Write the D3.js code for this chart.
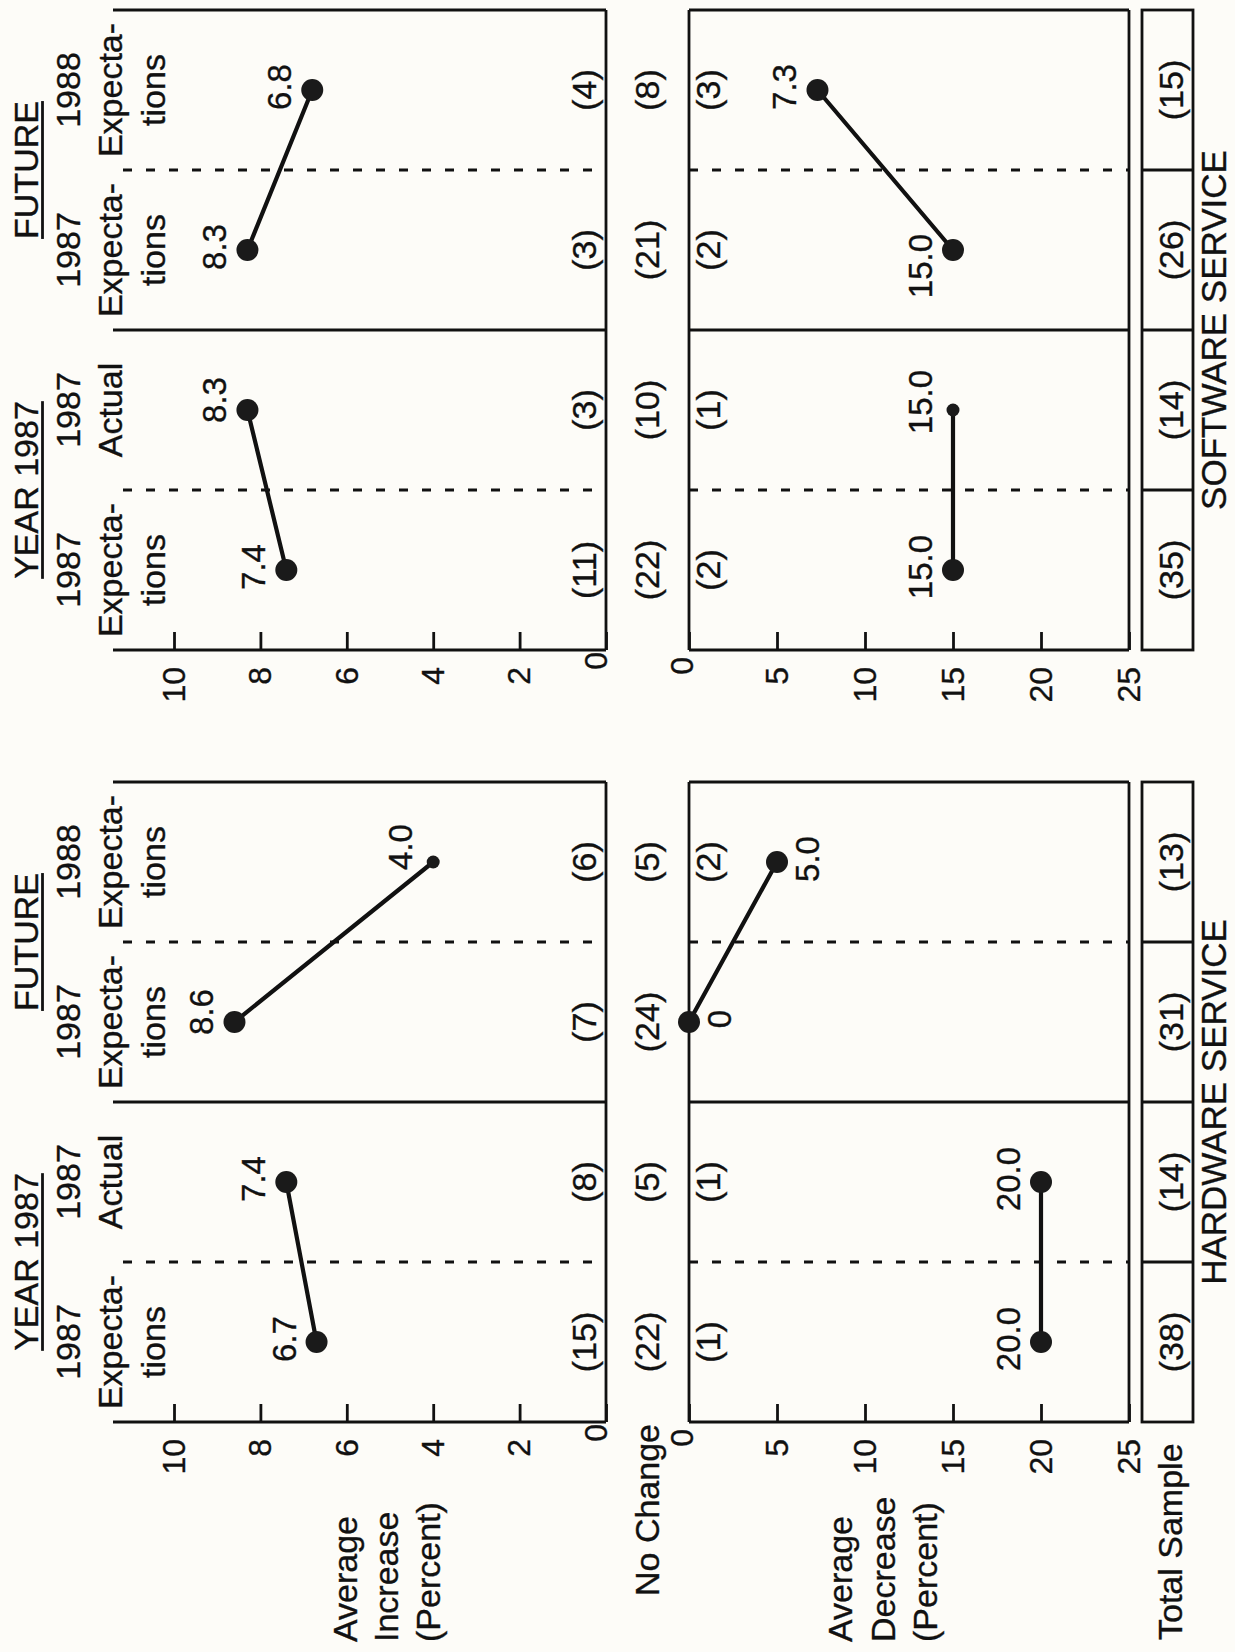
<!DOCTYPE html>
<html><head><meta charset="utf-8">
<script src="https://cdn.jsdelivr.net/npm/d3@7"></script>
<style>
html,body{margin:0;padding:0;background:#fdfcf8;}
svg{display:block;}
text{font-family:"Liberation Sans",Arial,Helvetica,sans-serif;fill:#111;stroke:#111;stroke-width:0.35px;}
</style></head><body>
<svg id="chart" width="1235" height="1652"></svg>
<script>
// ---------- data ----------
const groups = ["HARDWARE SERVICE", "SOFTWARE SERVICE"];
const periods = ["YEAR 1987", "FUTURE"];
const colHeaders = [["1987", "Expecta-", "tions"], ["1987", "Actual"], ["1987", "Expecta-", "tions"], ["1988", "Expecta-", "tions"]];
const rowIncrease = ["Average", "Increase", "(Percent)"];
const rowNoChange = "No Change";
const rowDecrease = ["Average", "Decrease", "(Percent)"];
const rowTotal = "Total Sample";
const increaseTicks = [0, 2, 4, 6, 8, 10];
const decreaseTicks = [0, 5, 10, 15, 20, 25];

const hwIncrease = [6.7, 7.4, 8.6, 4.0];
const hwDecrease = [20.0, 20.0, 0, 5.0];
const swIncrease = [7.4, 8.3, 8.3, 6.8];
const swDecrease = [15.0, 15.0, 15.0, 7.3];

const hwIncreaseN = [15, 8, 7, 6];
const hwNoChangeN = [22, 5, 24, 5];
const hwDecreaseN = [1, 1, null, 2];
const hwTotalN = [38, 14, 31, 13];
const swIncreaseN = [11, 3, 3, 4];
const swNoChangeN = [22, 10, 21, 8];
const swDecreaseN = [2, 1, 2, 3];
const swTotalN = [35, 14, 26, 15];

// ---------- style config (not data) ----------
const smallDots = {"0-inc-3": true, "1-dec-1": true};
const labelsBelow = {"0-dec-2": true, "0-dec-3": true};
const labelShift = {"0-inc-2": 10, "0-inc-3": 15, "1-inc-1": 10, "1-dec-1": 8, "1-dec-2": -16};

// ---------- layout (landscape frame, rotated at the end) ----------
const L = {top: 113, dashTop: 123, incBase: 606, decTop: 689, decBot: 1129,
           totTop: 1142, totBot: 1193, groupLeft: [230, 1002], groupW: 640};
const FS = 34;
const SW = 2.8;

const svg = d3.select("#chart");
svg.append("rect").attr("width", 1235).attr("height", 1652).attr("fill", "#fdfcf8");
const g = svg.append("g").attr("transform", "translate(0,1652) rotate(-90)");

const yInc = d3.scaleLinear().domain([0, 10]).range([606, 174]);
const yDec = d3.scaleLinear().domain([0, 25]).range([689, 1129]);

const INK = "#111";
const groupData = [
  {name: groups[0], inc: hwIncrease, dec: hwDecrease, incN: hwIncreaseN, ncN: hwNoChangeN, decN: hwDecreaseN, totN: hwTotalN},
  {name: groups[1], inc: swIncrease, dec: swDecrease, incN: swIncreaseN, ncN: swNoChangeN, decN: swDecreaseN, totN: swTotalN}
];

function line(parent, x1, y1, x2, y2, w, dash) {
  const l = parent.append("line").attr("x1", x1).attr("y1", y1).attr("x2", x2).attr("y2", y2)
    .attr("stroke", INK).attr("stroke-width", w);
  if (dash) l.attr("stroke-dasharray", dash);
  return l;
}
function txt(parent, x, y, s, anchor, size) {
  return parent.append("text").attr("x", x).attr("y", y).attr("text-anchor", anchor || "middle")
    .attr("font-size", size || FS).text(s);
}
const fmtVal = v => v === 0 ? "0" : v.toFixed(1);

// row labels
rowIncrease.forEach((s, i) => txt(g, 10, [357, 398, 440][i], s, "start"));
txt(g, 228, 659, rowNoChange, "end");
rowDecrease.forEach((s, i) => txt(g, 10, [852, 895, 937][i], s, "start"));
txt(g, 12, 1182, rowTotal, "start");

groupData.forEach((gd, gi) => {
  const left = L.groupLeft[gi];
  const right = left + L.groupW;
  const x = d3.scaleBand().domain(d3.range(4)).range([left, right]);
  const cx = i => x(i) + x.bandwidth() / 2;
  const gg = g.append("g");

  // axes
  const axInc = gg.append("g").attr("transform", `translate(${left},0)`)
    .call(d3.axisLeft(yInc).tickValues(increaseTicks).tickSize(-18).tickPadding(17).tickFormat(d3.format("d")));
  const axDec = gg.append("g").attr("transform", `translate(${left},0)`)
    .call(d3.axisLeft(yDec).tickValues(decreaseTicks).tickSize(-18).tickPadding(17).tickFormat(d3.format("d")));
  [axInc, axDec].forEach(ax => {
    ax.attr("font-size", null).attr("font-family", null);
    ax.select(".domain").remove();
    ax.selectAll(".tick line").attr("stroke", INK).attr("stroke-width", SW);
    ax.selectAll(".tick text").attr("font-size", 32).attr("fill", INK);
  });
  axInc.selectAll(".tick text").filter(d => d === 0).attr("x", -2).attr("y", -10);
  axDec.selectAll(".tick text").filter(d => d === 0).attr("x", -7).attr("y", -7);

  // panel frame lines
  [left, left + 320, right].forEach(lx => {
    line(gg, lx, L.top, lx, L.incBase, SW);
    line(gg, lx, L.decTop, lx, L.decBot, SW);
  });
  [left + 160, left + 480].forEach(lx => {
    line(gg, lx, L.dashTop, lx, L.incBase, SW, "9,14");
    line(gg, lx, L.decTop, lx, L.decBot, SW, "9,14");
  });
  [L.incBase, L.decTop, L.decBot].forEach(ly => line(gg, left, ly, right, ly, SW));

  // total sample box
  gg.append("rect").attr("x", left).attr("y", L.totTop).attr("width", L.groupW)
    .attr("height", L.totBot - L.totTop).attr("fill", "none").attr("stroke", INK).attr("stroke-width", SW);
  [1, 2, 3].forEach(i => line(gg, x(i), L.totTop, x(i), L.totBot, SW));

  // headers
  periods.forEach((p, pi) => {
    const c = left + 160 + pi * 320;
    const t = txt(gg, c, 38, p);
    const w = t.node().getComputedTextLength();
    line(gg, c - w / 2, 42.5, c + w / 2, 42.5, SW);
  });
  colHeaders.forEach((lines, i) => {
    lines.forEach((s, k) => txt(gg, cx(i), [80, 122, 165][k], s));
  });

  // counts
  gd.incN.forEach((n, i) => { if (n != null) txt(gg, cx(i), 596, `(${n})`); });
  gd.ncN.forEach((n, i) => { if (n != null) txt(gg, cx(i), 659, `(${n})`); });
  gd.decN.forEach((n, i) => { if (n != null) txt(gg, cx(i), 720, `(${n})`); });
  gd.totN.forEach((n, i) => { if (n != null) txt(gg, cx(i), 1183, `(${n})`); });

  // connecting lines + dots + value labels
  [["inc", gd.inc, yInc], ["dec", gd.dec, yDec]].forEach(([key, vals, y]) => {
    [[0, 1], [2, 3]].forEach(([a, b]) => {
      line(gg, cx(a), y(vals[a]), cx(b), y(vals[b]), 4.2).attr("stroke-linecap", "round");
    });
    vals.forEach((v, i) => {
      const id = `${gi}-${key}-${i}`;
      gg.append("circle").attr("cx", cx(i)).attr("cy", y(v))
        .attr("r", smallDots[id] ? 6.5 : 11).attr("fill", "#1a1a1a");
      const below = labelsBelow[id];
      const dx = labelShift[id] != null ? labelShift[id] : 3;
      txt(gg, cx(i) + dx, below ? y(v) + 42 : y(v) - 21, fmtVal(v), "middle", 33);
    });
  });

  // group label
  txt(gg, left + L.groupW / 2, 1226, gd.name, "middle", 35);
});
</script>
</body></html>
